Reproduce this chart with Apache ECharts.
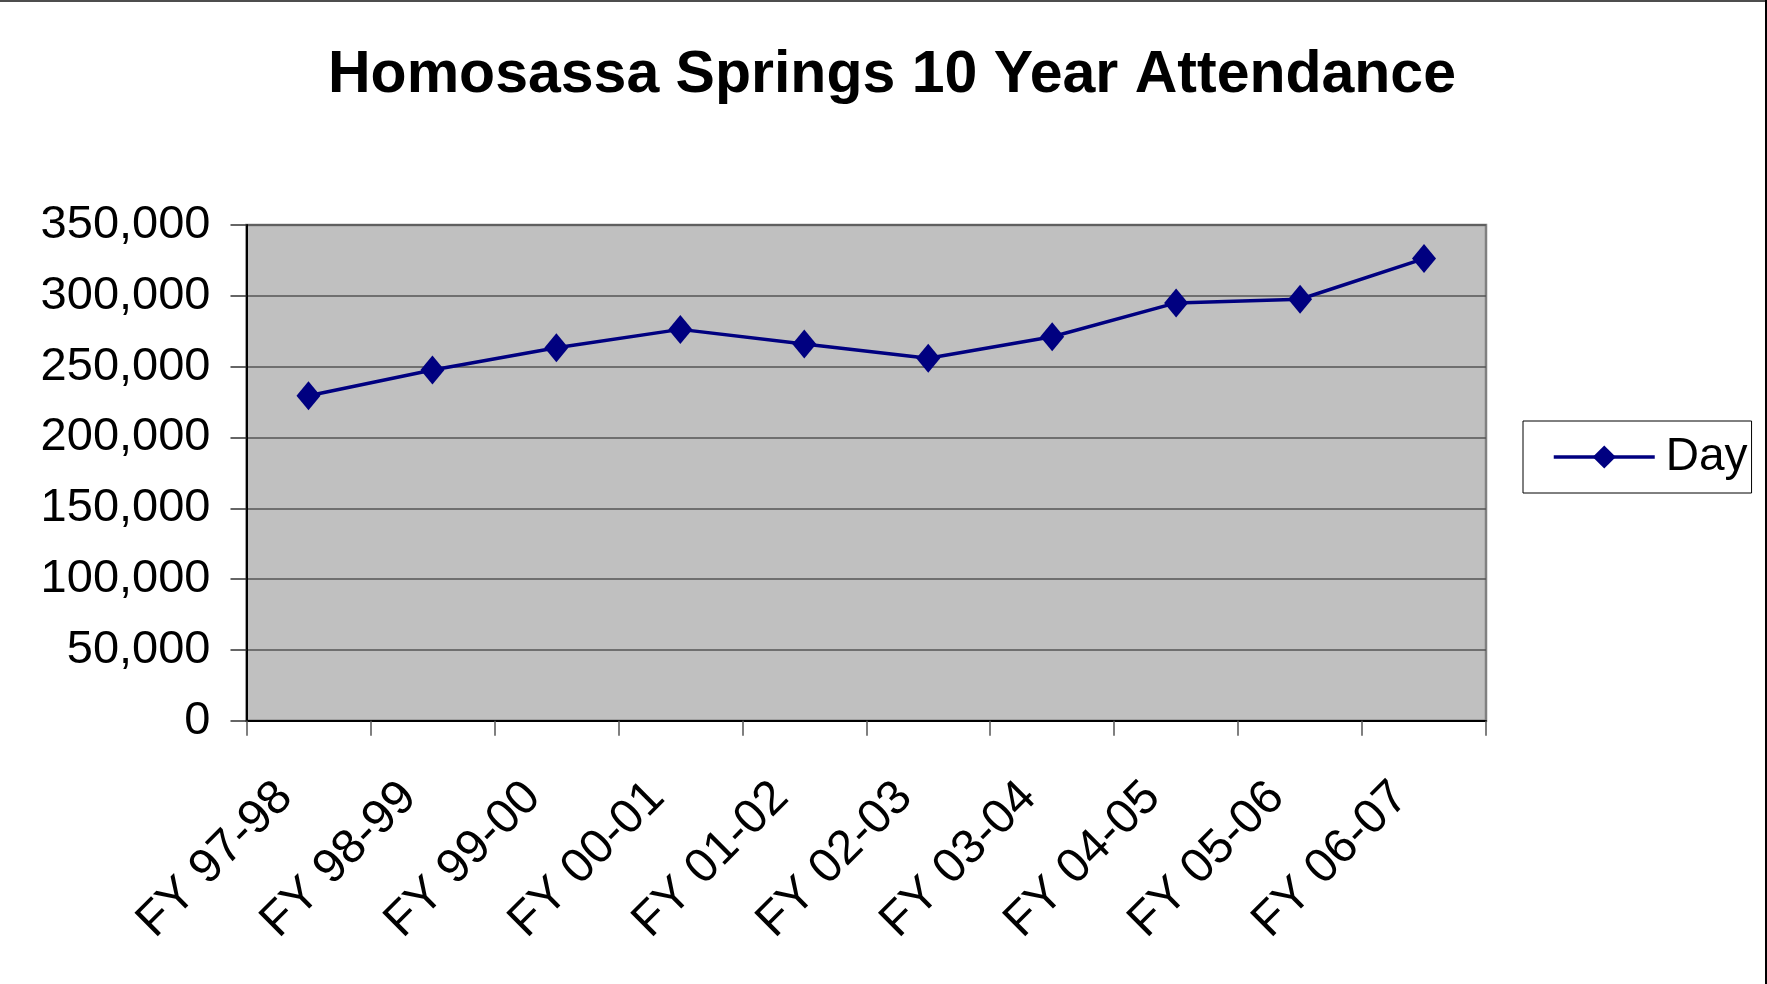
<!DOCTYPE html>
<html>
<head>
<meta charset="utf-8">
<script src="https://cdn.jsdelivr.net/npm/echarts@6/dist/echarts.min.js"></script>
<style>
  html, body { margin: 0; padding: 0; background: #fff; }
  #chart { position: absolute; left: 0; top: 0; width: 1767px; height: 984px; }
  #bt { position: absolute; left: 0; top: 0; width: 1767px; height: 2px; background: #4d4d4d; }
  #br { position: absolute; right: 0; top: 0; width: 2px; height: 984px; background: #000; }
</style>
</head>
<body>
<div id="chart"></div>
<div id="bt"></div>
<div id="br"></div>
<script>
const titleText = 'Homosassa Springs 10 Year Attendance';
const categories = ['FY 97-98', 'FY 98-99', 'FY 99-00', 'FY 00-01', 'FY 01-02', 'FY 02-03', 'FY 03-04', 'FY 04-05', 'FY 05-06', 'FY 06-07'];
const seriesName = 'Day';
const dayValues = [229400, 247600, 263300, 276300, 265900, 255900, 271100, 295000, 297600, 326300];
const yMin = 0;
const yMax = 350000;
const yInterval = 50000;

const FONT = "'Liberation Sans', Arial, sans-serif";
const chart = echarts.init(document.getElementById('chart'), null, { renderer: 'canvas' });

chart.setOption({
  animation: false,
  backgroundColor: '#ffffff',
  title: {
    text: titleText,
    left: 323,
    top: 41,
    textStyle: { fontFamily: FONT, fontSize: 59, fontWeight: 'bold', color: '#000', lineHeight: 59 }
  },
  legend: {
    data: [seriesName],
    left: 1523,
    top: 421,
    orient: 'vertical',
    padding: [13, 4, 13, 29],
    borderColor: '#000',
    borderWidth: 1,
    backgroundColor: '#fff',
    itemWidth: 101,
    itemHeight: 29,
    lineStyle: { width: 3.5 },
    textStyle: { fontFamily: FONT, fontSize: 46, color: '#000', padding: [0, 0, 0, 6] }
  },
  grid: {
    left: 246.5,
    right: 281,
    top: 225,
    bottom: 263.3,
    show: true,
    backgroundColor: '#C0C0C0',
    borderColor: '#808080',
    borderWidth: 2.5
  },
  xAxis: {
    type: 'category',
    data: categories,
    boundaryGap: true,
    axisLine: { show: true, lineStyle: { color: '#000', width: 2 } },
    axisTick: { show: true, alignWithLabel: false, length: 15, lineStyle: { color: '#555', width: 1.5 } },
    axisLabel: {
      interval: 0,
      rotate: 45,
      margin: 46,
      padding: [0, 33, 22, 0],
      fontFamily: FONT,
      fontSize: 48,
      color: '#000'
    },
    splitLine: { show: false }
  },
  yAxis: {
    type: 'value',
    min: yMin,
    max: yMax,
    interval: yInterval,
    axisLine: { show: true, lineStyle: { color: '#000', width: 2 } },
    axisTick: { show: true, length: 16, lineStyle: { color: '#333', width: 1.5 } },
    axisLabel: {
      margin: 36,
      fontFamily: FONT,
      fontSize: 47,
      color: '#000',
      formatter: v => v.toLocaleString('en-US')
    },
    splitLine: { show: true, lineStyle: { color: '#555', width: 1.5 } }
  },
  series: [{
    name: seriesName,
    type: 'line',
    data: dayValues,
    color: '#000080',
    lineStyle: { color: '#000080', width: 3.5 },
    itemStyle: { color: '#000080' },
    symbol: 'diamond',
    symbolSize: [24, 29],
    showSymbol: true
  }]
});
</script>
</body>
</html>
